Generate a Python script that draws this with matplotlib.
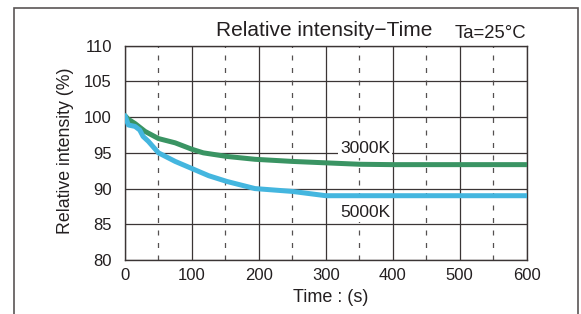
import matplotlib
matplotlib.use("Agg")
import matplotlib.pyplot as plt
from matplotlib.patches import Rectangle

plt.rcParams['font.family'] = ['Liberation Sans', 'DejaVu Sans']

# Data
time_3000 = [0, 5, 15, 30, 50, 75, 100, 117, 152, 194, 250, 300, 351, 400, 500, 600]
int_3000 = [100.2, 99.7, 99.1, 98.0, 97.0, 96.4, 95.5, 95.0, 94.5, 94.1, 93.8, 93.6, 93.4, 93.35, 93.35, 93.35]

time_5000 = [0, 5, 15, 22, 27, 35, 50, 75, 100, 125, 152, 194, 250, 300, 400, 500, 600]
int_5000 = [100.2, 98.9, 98.7, 98.2, 97.3, 96.6, 95.0, 93.8, 92.8, 91.8, 91.0, 90.0, 89.6, 89.0, 89.0, 89.0, 89.0]

x_ticks = [0, 100, 200, 300, 400, 500, 600]
x_minor = [50, 150, 250, 350, 450, 550]
y_ticks = [80, 85, 90, 95, 100, 105, 110]

title = "Relative intensity\u2212Time"
cond = "Ta=25\u00b0C"
xlabel = "Time : (s)"
ylabel = "Relative intensity (%)"
series_labels = ["3000K", "5000K"]

W, H = 581, 314
fig = plt.figure(figsize=(W / 100, H / 100), dpi=100)
ax = fig.add_axes([125 / W, 1 - 260 / H, (526.7 - 125) / W, (260 - 45.7) / H])

text_c = '#231f20'
grid_c = '#3b3535'
green = '#3a9463'
blue = '#44b6df'

ax.set_xlim(0, 600)
ax.set_ylim(80, 110)
ax.set_xticks(x_ticks)
ax.set_yticks(y_ticks)
ax.tick_params(length=0, labelsize=12, colors=text_c)
ax.tick_params(axis='x', pad=6)
ax.tick_params(axis='y', pad=9.5)
for s in ax.spines.values():
    s.set_color(grid_c)
    s.set_linewidth(1.0)
ax.grid(True, color=grid_c, linewidth=0.9)
for xm in x_minor:
    ax.axvline(xm, color='#555050', linewidth=0.9, linestyle=(0, (4, 6)), zorder=1)
ax.set_axisbelow(True)

ax.plot(time_3000, int_3000, color=green, linewidth=3.6, solid_capstyle='round', solid_joinstyle='round', zorder=3)
ax.plot(time_5000, int_5000, color=blue, linewidth=3.6, solid_capstyle='round', solid_joinstyle='round', zorder=3)

bb = dict(facecolor='white', edgecolor='none', pad=1.5)
ax.text(359, 95.6, series_labels[0], fontsize=12.5, color=text_c, ha='center', va='center', bbox=bb, zorder=4)
ax.text(359, 86.7, series_labels[1], fontsize=12.5, color=text_c, ha='center', va='center', bbox=bb, zorder=4)

fig.text(324 / W, 1 - 31 / H, title, fontsize=15, color=text_c, ha='center', va='center')
fig.text(490 / W, 1 - 34 / H, cond, fontsize=13.3, color=text_c, ha='center', va='center')
fig.text(331 / W, 1 - 297 / H, xlabel, fontsize=13, color=text_c, ha='center', va='center')
fig.text(65 / W, 1 - 151 / H, ylabel, fontsize=12.8, color=text_c, ha='center', va='center', rotation=90)

fig.patches.append(Rectangle((14 / W, -0.1), (578 - 14) / W, 1.1 - 8 / H, transform=fig.transFigure,
                             fill=False, edgecolor='#5a5555', linewidth=1.2))

fig.savefig('out.png', dpi=100)
